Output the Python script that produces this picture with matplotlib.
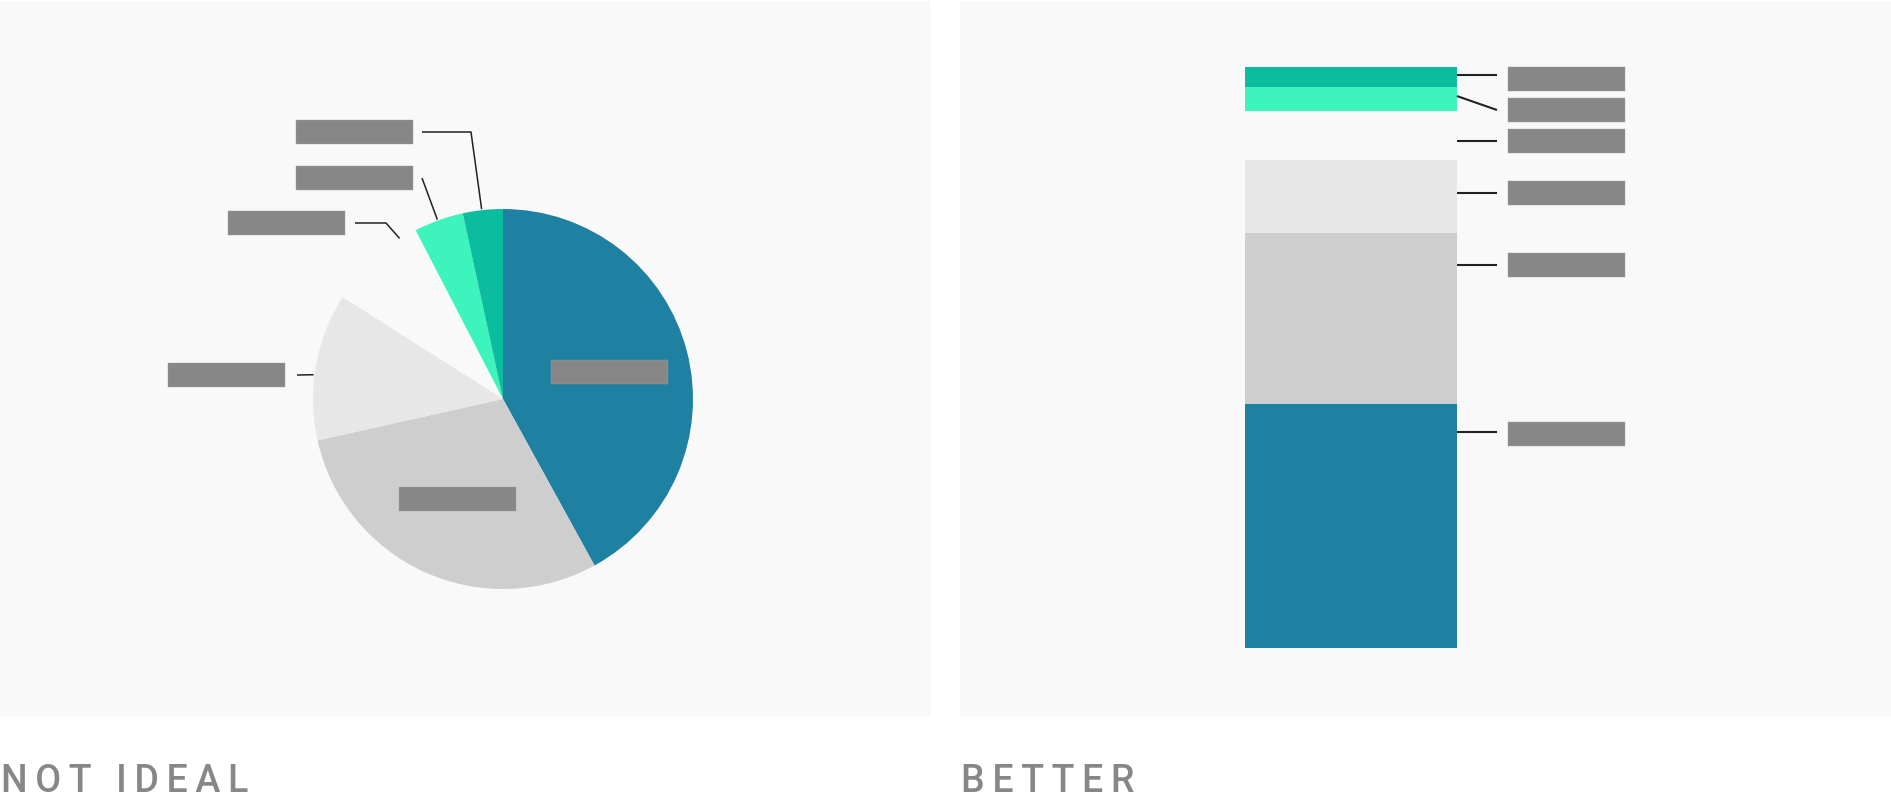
import numpy as np
import matplotlib.pyplot as plt
from matplotlib.patches import Rectangle
from matplotlib.transforms import IdentityTransform

W, H = 1891, 805

# segment shares in %, pie order clockwise from 12 o'clock, bar order bottom to top
# (category names are blanked out as grey boxes in the original)
segments = ['s1', 's2', 's3', 's4', 's5', 's6']
shares = [42.0, 29.5, 12.5, 8.4, 4.2, 3.4]
seg_colors = ['#1e81a1', '#cecece', '#e7e7e7', '#f9f9f9', '#3df4bd', '#0bbc9f']
hidden = 3  # this slice is left empty in both charts

panel_titles = ['NOT IDEAL', 'BETTER']

PANEL_BG = '#f9f9f9'
BOX = '#878787'
LINE = '#222222'
TITLE = '#878787'


def label_box(ax, x, y, w=117, h=24):
    # grey placeholder label, fixed size in pixels, centred on a data point
    cx, cy = ax.transData.transform((x, y))
    ax.add_artist(Rectangle((round(cx - w / 2), round(cy - h / 2)), w, h,
                            transform=IdentityTransform(), fc=BOX, ec='#a0a0a0',
                            lw=0.3, clip_on=False, zorder=5))


def spaced(s):
    return '\u2009'.join(s)


fig = plt.figure(figsize=(W / 100, H / 100), dpi=100)
fig.patch.set_facecolor('white')

# ---------- left: pie ----------
ax1 = fig.add_axes([0, (H - 717) / H, 931 / W, 716 / H])
ax1.set_facecolor(PANEL_BG)
cx, cy, r = 503, 717 - 399, 190
wedges, _ = ax1.pie(shares, colors=seg_colors, startangle=90, counterclock=False,
                    center=(cx, cy), radius=r, frame=True,
                    wedgeprops=dict(linewidth=0))
wedges[hidden].set_visible(False)
ax1.set_xlim(0, 931)
ax1.set_ylim(0, 716)
ax1.set_aspect('auto')
ax1.set_xticks([])
ax1.set_yticks([])
for s in ax1.spines.values():
    s.set_visible(False)

mids = [np.deg2rad((w.theta1 + w.theta2) / 2) for w in wedges]

# labels inside the two big slices
for i in [0, 1]:
    label_box(ax1, cx + 0.58 * r * np.cos(mids[i]), cy + 0.58 * r * np.sin(mids[i]))

# outside labels: box centre (px from top-left), leader start x, elbow x, angle tweak
outer = {
    2: dict(box=(227, 375), start=297, elbow=None, tweak=2.6),
    3: dict(box=(286, 223), start=355, elbow=386, tweak=-9.7),
    4: dict(box=(355, 178), start=422, elbow=None, tweak=0.3),
    5: dict(box=(355, 132), start=422, elbow=471, tweak=0.3),
}
for i, o in outer.items():
    bx, by = o['box'][0], 717 - o['box'][1]
    label_box(ax1, bx, by)
    a = mids[i] + np.deg2rad(o['tweak'])
    ex, ey = cx + (r + 1) * np.cos(a), cy + (r + 1) * np.sin(a)
    xs, ys = [o['start']], [by]
    if o['elbow'] is not None:
        xs.append(o['elbow'])
        ys.append(by)
    xs.append(ex)
    ys.append(ey)
    ax1.plot(xs, ys, color=LINE, lw=1.1, solid_capstyle='butt', zorder=4)

# ---------- right: stacked bar ----------
ax2 = fig.add_axes([960 / W, (H - 717) / H, 931 / W, 716 / H])
ax2.set_facecolor(PANEL_BG)
ax2.set_xticks([])
ax2.set_yticks([])
for s in ax2.spines.values():
    s.set_visible(False)

bar_top_px, bar_bot_px = 67, 648.3
ax3 = fig.add_axes([960 / W, (H - bar_bot_px) / H, 931 / W, (bar_bot_px - bar_top_px) / H])
ax3.patch.set_alpha(0)
ax3.axis('off')
ax3.set_xlim(0, 931)
ax3.set_ylim(0, 100)

bottoms = np.concatenate([[0], np.cumsum(shares)[:-1]])
bars = ax3.bar([285] * len(shares), shares, width=212, bottom=bottoms,
               color=seg_colors, linewidth=0, align='edge')
bars[hidden].set_visible(False)

# label positions (in % of the bar) and leader line ends
bar_label_y = [36.9, 65.9, 78.3, 87.2, 92.6, 98.0]
line_from_y = [37.2, 65.9, 78.3, 87.2, 95.0, 98.7]
line_to_y = [37.2, 65.9, 78.3, 87.2, 92.6, 98.7]
for i in range(len(shares)):
    ax3.plot([497, 537], [line_from_y[i], line_to_y[i]], color=LINE, lw=1.5,
             solid_capstyle='butt', clip_on=False)
    label_box(ax3, 607, bar_label_y[i])

# ---------- titles ----------
for x, t in zip([1, 961], panel_titles):
    fig.text(x / W, (H - 792) / H, spaced(t), color=TITLE, fontsize=27,
             fontweight='medium', family=['Roboto', 'DejaVu Sans'], va='baseline', ha='left')

fig.savefig('out.png', dpi=100, facecolor=fig.get_facecolor())
